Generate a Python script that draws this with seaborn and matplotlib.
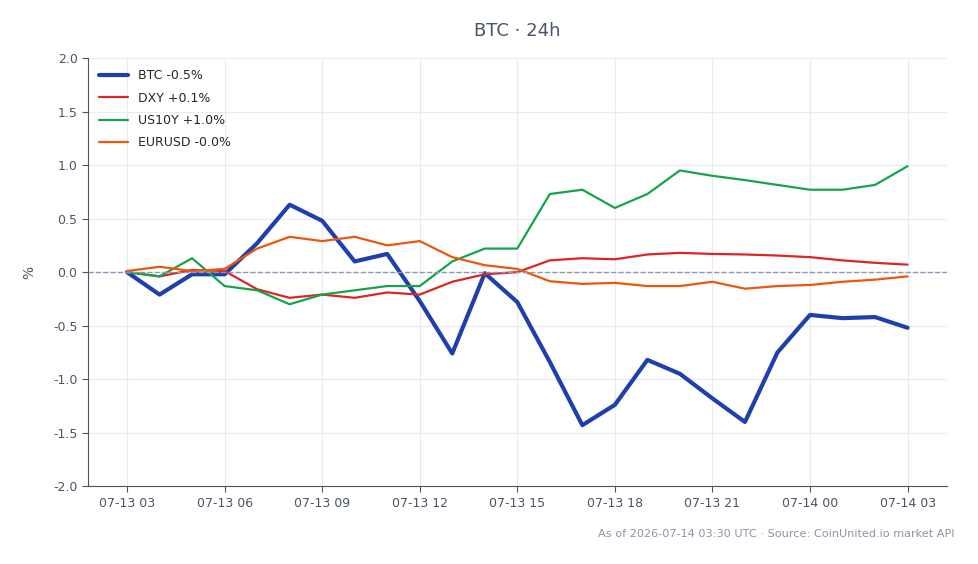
import pandas as pd
import numpy as np
import matplotlib
matplotlib.use("Agg")
import matplotlib.pyplot as plt
import matplotlib.dates as mdates
import seaborn as sns

# hourly % change since 07-13 03:00 UTC
times = pd.date_range("2026-07-13 03:00", periods=25, freq="h")

btc = [0.00, -0.21, -0.02, -0.02, 0.27, 0.63, 0.48, 0.10, 0.17, -0.27,
       -0.76, -0.01, -0.28, -0.84, -1.43, -1.24, -0.82, -0.95, -1.18, -1.40,
       -0.75, -0.40, -0.43, -0.42, -0.52]
dxy = [0.00, -0.04, 0.02, 0.01, -0.16, -0.24, -0.21, -0.24, -0.19, -0.21,
       -0.09, -0.02, 0.00, 0.11, 0.13, 0.12, 0.165, 0.18, 0.17, 0.165,
       0.155, 0.14, 0.11, 0.087, 0.07]
us10y = [0.00, -0.04, 0.13, -0.13, -0.17, -0.30, -0.21, -0.17, -0.13, -0.13,
         0.10, 0.22, 0.22, 0.73, 0.77, 0.60, 0.73, 0.95, 0.90, 0.86,
         0.815, 0.77, 0.77, 0.815, 0.99]
eurusd = [0.01, 0.05, 0.01, 0.03, 0.22, 0.33, 0.29, 0.33, 0.25, 0.29,
          0.14, 0.065, 0.03, -0.085, -0.11, -0.10, -0.13, -0.13, -0.09, -0.155,
          -0.13, -0.12, -0.09, -0.07, -0.04]

labels = ["BTC -0.5%", "DXY +0.1%", "US10Y +1.0%", "EURUSD -0.0%"]
series = [btc, dxy, us10y, eurusd]
colors = ["#1e40af", "#dc2626", "#16a34a", "#ea580c"]
widths = [3.0, 1.6, 1.6, 1.6]

sns.set_style("white")
plt.rcParams["font.family"] = ["DejaVu Sans"]

fig = plt.figure(figsize=(9.79, 5.64), dpi=100)
ax = fig.add_axes([0.0899, 0.138, 0.877, 0.759])

for vals, lab, col, lw in zip(series, labels, colors, widths):
    df = pd.DataFrame({"time": times, "pct": vals})
    sns.lineplot(data=df, x="time", y="pct", ax=ax, color=col, linewidth=lw, label=lab)

ax.axhline(0, color="#8a9ab5", linestyle="--", linewidth=1)

ax.set_ylim(-2.0, 2.0)
ax.set_yticks(np.arange(-2.0, 2.01, 0.5))
ax.yaxis.set_major_formatter(matplotlib.ticker.FormatStrFormatter("%.1f"))
ax.xaxis.set_major_locator(mdates.HourLocator(byhour=range(0, 24, 3)))
ax.xaxis.set_major_formatter(mdates.DateFormatter("%m-%d %H"))

ax.grid(True, color="#e8ebf0", linewidth=0.8)
for s in ["top", "right"]:
    ax.spines[s].set_visible(False)
for s in ["left", "bottom"]:
    ax.spines[s].set_color("#4a5568")
ax.tick_params(axis="both", colors="#4a5568", labelsize=9, length=4, direction="out",
               left=True, bottom=True)
ax.set_xlabel("")
ax.set_ylabel("%", color="#4a5568", fontsize=10, labelpad=12)

leg = ax.legend(loc="upper left", frameon=False, fontsize=9,
                labelspacing=0.75, handlelength=2.3, handletextpad=0.8)

fig.text(0.528, 0.945, "BTC · 24h", ha="center", va="center", fontsize=13, color="#4a5568")
fig.text(0.975, 0.053, "As of 2026-07-14 03:30 UTC · Source: CoinUnited.io market API",
         ha="right", va="center", fontsize=8.15, color="#8a94a6")

plt.savefig("out.png", dpi=100)
